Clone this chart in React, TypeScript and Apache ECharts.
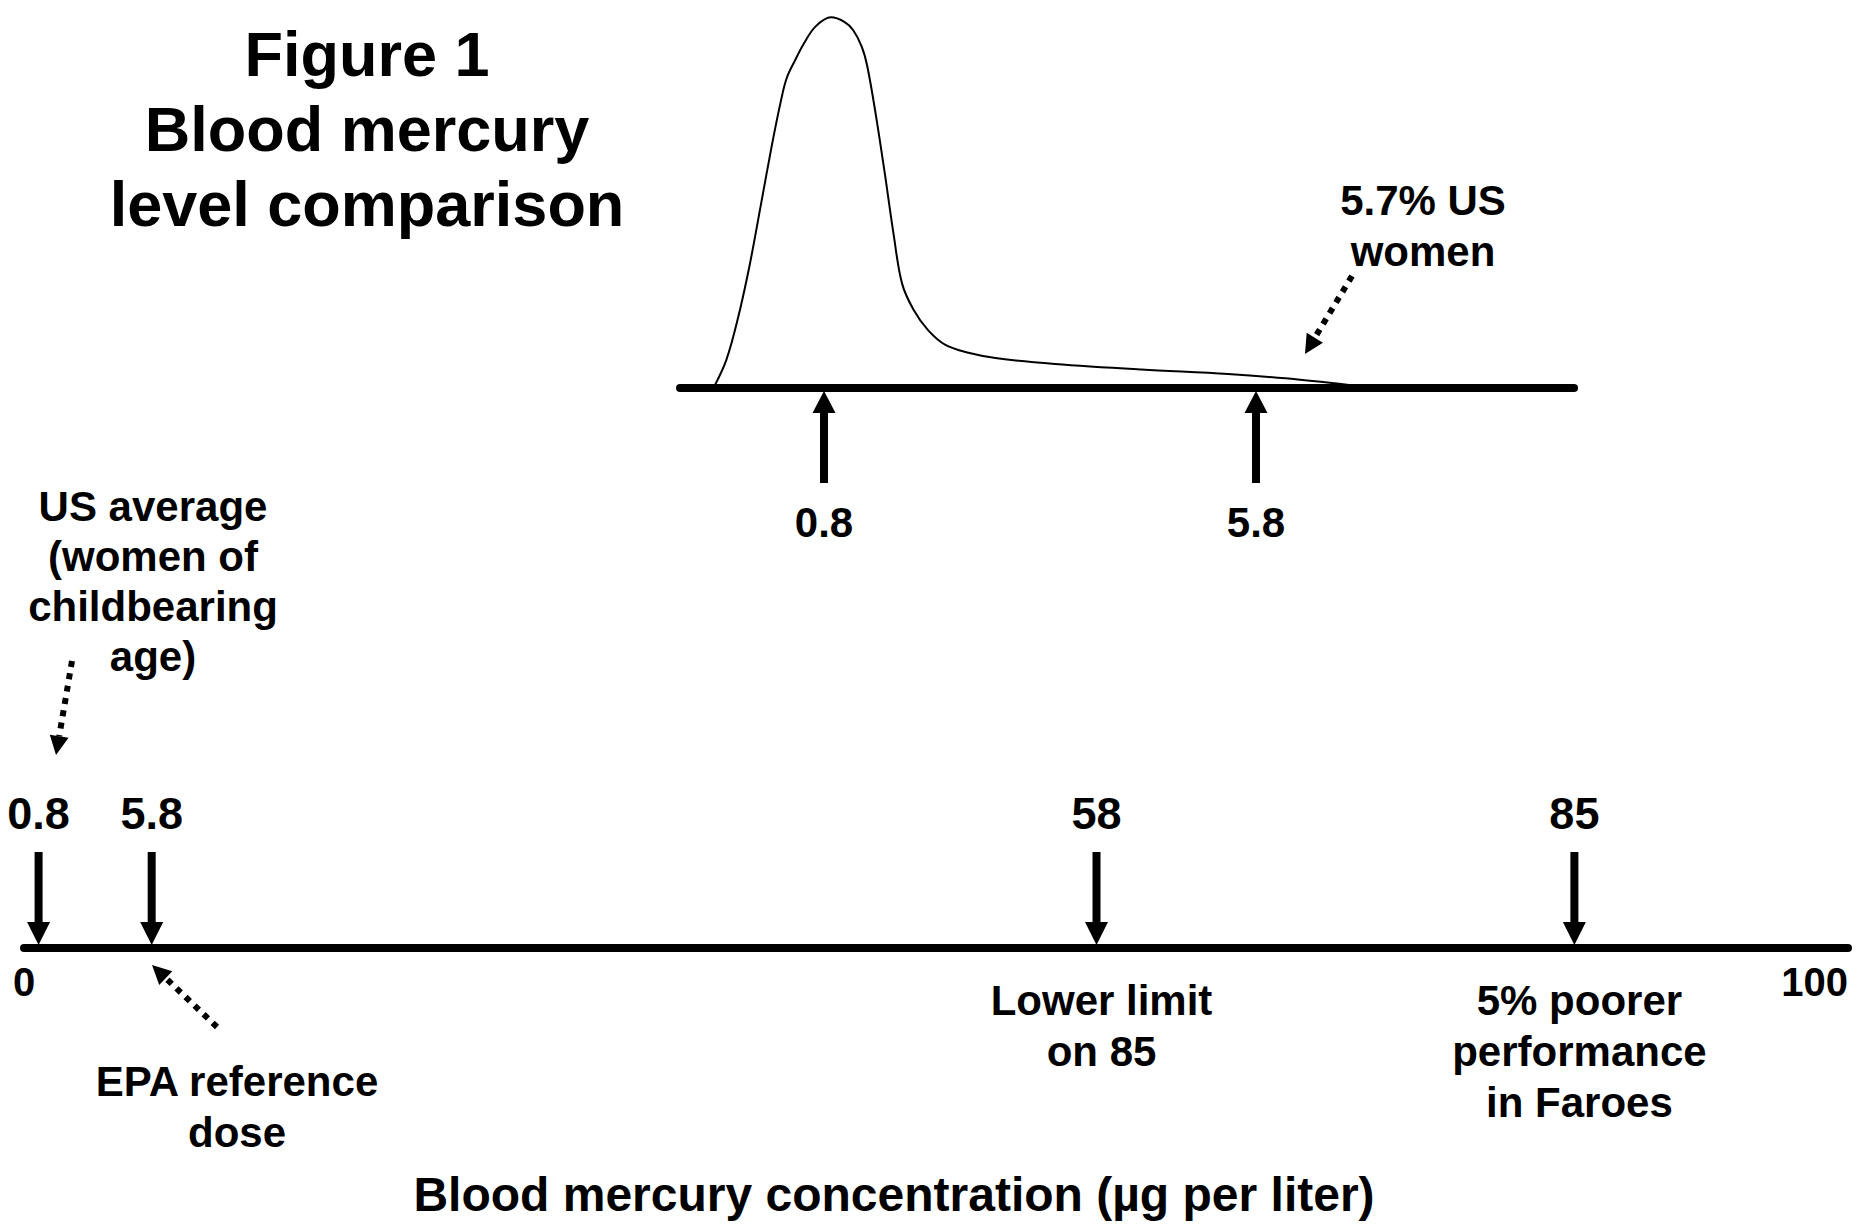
import React, { useEffect, useRef } from "react";
import * as echarts from "echarts";

const FONT = "Liberation Sans, Arial, Helvetica, sans-serif";

// ---- Inset: distribution of blood mercury among US women (log concentration axis) ----
const insetAxisMin = 0.4133;
const insetAxisMax = 24.93;
const curveConc = [
  0.484, 0.511, 0.538, 0.568, 0.598, 0.631, 0.657, 0.674, 0.701, 0.73,
  0.769, 0.826, 0.878, 0.914, 0.951, 0.976, 1.016, 1.057, 1.1, 1.144,
  1.207, 1.289, 1.396, 1.551, 1.77, 2.306, 3.429, 5.1, 6.641, 8.887,
];
const curveDensity = [
  0.5, 7.5, 18.3, 32.7, 48.9, 66.0, 77.6, 83.5, 88.4, 92.9,
  97.4, 99.9, 98.7, 96.5, 92.0, 86.6, 73.1, 57.9, 41.7, 28.2,
  21.0, 15.6, 11.6, 9.5, 8.0, 6.5, 5.0, 3.8, 2.6, 0.8,
];
const insetMarkerValues = [0.8, 5.8];
const insetMarkerLabels = ["0.8", "5.8"];

// ---- Main scale: blood mercury concentration 0–100 µg per liter ----
const scaleMin = 0;
const scaleMax = 100;
const scaleTickInterval = 100;
const markerLabels = ["0.8", "5.8", "58", "85"];
const markerAxisPos = [0.8, 7.0, 58.8, 85.0]; // where each marker sits on the drawn scale
const markerNotes = ["", "", "Lower limit\non 85", "5% poorer\nperformance\nin Faroes"];

const titleText = "Figure 1\nBlood mercury\nlevel comparison";
const axisTitle = "Blood mercury concentration (\u00b5g per liter)";
const noteUsAverage = "US average\n(women of\nchildbearing\nage)";
const noteEpa = "EPA reference\ndose";
const noteUsWomen = "5.7% US\nwomen";

function textEl(text: string, x: number, y: number, size: number, lineHeight: number) {
  return {
    type: "text",
    x,
    y,
    style: {
      text,
      fontSize: size,
      fontWeight: "bold",
      fontFamily: FONT,
      fill: "#000",
      align: "center",
      textAlign: "center",
      verticalAlign: "top",
      textVerticalAlign: "top",
      lineHeight,
    },
  };
}

function dottedArrow(tail: number[], tip: number[]) {
  const dx = tip[0] - tail[0];
  const dy = tip[1] - tail[1];
  const len = Math.sqrt(dx * dx + dy * dy);
  const ux = dx / len;
  const uy = dy / len;
  const headLen = 19;
  const half = 9.5;
  const bx = tip[0] - ux * headLen;
  const by = tip[1] - uy * headLen;
  return [
    {
      type: "line",
      shape: { x1: tail[0], y1: tail[1], x2: bx, y2: by },
      style: { stroke: "#000", lineWidth: 6, lineDash: [6, 6.5] },
    },
    {
      type: "polygon",
      shape: {
        points: [
          [tip[0], tip[1]],
          [bx - uy * half, by + ux * half],
          [bx + uy * half, by - ux * half],
        ],
      },
      style: { fill: "#000" },
    },
  ];
}

export default function App() {
  const ref = useRef<HTMLDivElement>(null);

  useEffect(() => {
    if (!ref.current) return;
    const chart = echarts.init(ref.current, undefined, { renderer: "svg" });

    const option: any = {
      animation: false,
      backgroundColor: "#fff",
      grid: [
        { left: 680, width: 894, top: 17, height: 371 },
        { left: 24, width: 1824, top: 852, height: 96 },
      ],
      xAxis: [
        {
          type: "log",
          gridIndex: 0,
          min: insetAxisMin,
          max: insetAxisMax,
          axisLine: { show: true, onZero: false, lineStyle: { color: "#000", width: 8 } },
          axisTick: { show: false },
          axisLabel: { show: false },
          splitLine: { show: false },
          minorSplitLine: { show: false },
        },
        {
          type: "value",
          gridIndex: 1,
          min: scaleMin,
          max: scaleMax,
          interval: scaleTickInterval,
          axisLine: { show: true, onZero: false, lineStyle: { color: "#000", width: 8 } },
          axisTick: { show: false },
          splitLine: { show: false },
          axisLabel: {
            show: true,
            margin: 14,
            fontSize: 40,
            fontWeight: "bold",
            fontFamily: FONT,
            color: "#000",
            alignMaxLabel: "right",
            alignMinLabel: "center",
          },
          name: axisTitle,
          nameLocation: "middle",
          nameGap: 222,
          nameTextStyle: {
            fontSize: 48,
            fontWeight: "bold",
            fontFamily: FONT,
            color: "#000",
            padding: [0, 84, 0, 0],
          },
        },
      ],
      yAxis: [
        { type: "value", gridIndex: 0, min: 0, max: 100, show: false },
        { type: "value", gridIndex: 1, min: 0, max: 1, show: false },
      ],
      series: [
        {
          type: "line",
          xAxisIndex: 0,
          yAxisIndex: 0,
          data: curveConc.map((c, i) => [c, curveDensity[i]]),
          smooth: 0.35,
          symbol: "none",
          lineStyle: { color: "#000", width: 2 },
          z: 1,
        },
        {
          type: "custom",
          xAxisIndex: 0,
          yAxisIndex: 0,
          data: insetMarkerValues.map((v, i) => [v, i]),
          renderItem: (params: any, api: any) => {
            const i = api.value(1);
            const p = api.coord([api.value(0), 0]);
            const x = p[0];
            const y = p[1];
            return {
              type: "group",
              children: [
                { type: "rect", shape: { x: x - 4, y: y + 22, width: 8, height: 73 }, style: { fill: "#000" } },
                {
                  type: "polygon",
                  shape: { points: [[x, y + 3], [x - 11.5, y + 25], [x + 11.5, y + 25]] },
                  style: { fill: "#000" },
                },
                {
                  type: "text",
                  style: {
                    text: insetMarkerLabels[i],
                    x,
                    y: y + 134,
                    align: "center",
                    verticalAlign: "middle",
                    fontSize: 42,
                    fontWeight: "bold",
                    fontFamily: FONT,
                    fill: "#000",
                  },
                },
              ],
            };
          },
          z: 3,
        },
        {
          type: "custom",
          xAxisIndex: 1,
          yAxisIndex: 1,
          data: markerAxisPos.map((v, i) => [v, i]),
          renderItem: (params: any, api: any) => {
            const i = api.value(1);
            const p = api.coord([api.value(0), 0]);
            const x = p[0];
            const y = p[1];
            const children: any[] = [
              { type: "rect", shape: { x: x - 4, y: y - 96, width: 8, height: 73 }, style: { fill: "#000" } },
              {
                type: "polygon",
                shape: { points: [[x, y - 3], [x - 11.5, y - 26], [x + 11.5, y - 26]] },
                style: { fill: "#000" },
              },
              {
                type: "text",
                style: {
                  text: markerLabels[i],
                  x,
                  y: y - 135,
                  align: "center",
                  verticalAlign: "middle",
                  fontSize: 45,
                  fontWeight: "bold",
                  fontFamily: FONT,
                  fill: "#000",
                },
              },
            ];
            if (markerNotes[i]) {
              children.push({
                type: "text",
                style: {
                  text: markerNotes[i],
                  x: x + 5,
                  y: y + 27,
                  align: "center",
                  verticalAlign: "top",
                  lineHeight: 51,
                  fontSize: 42,
                  fontWeight: "bold",
                  fontFamily: FONT,
                  fill: "#000",
                },
              });
            }
            return { type: "group", children };
          },
          z: 3,
        },
      ],
      graphic: [
        textEl(titleText, 367, 16, 63, 75),
        textEl(noteUsAverage, 153, 481, 42, 50),
        textEl(noteEpa, 237, 1056, 42, 51),
        textEl(noteUsWomen, 1423, 175, 42, 51),
        ...dottedArrow([72, 661], [56, 755]),
        ...dottedArrow([217, 1027], [152, 965]),
        ...dottedArrow([1352, 276], [1305, 354]),
      ],
    };

    chart.setOption(option);
    return () => chart.dispose();
  }, []);

  return (
    <div
      ref={ref}
      style={{ position: "absolute", left: 0, top: 0, width: 1860, height: 1225, background: "#fff" }}
    />
  );
}
